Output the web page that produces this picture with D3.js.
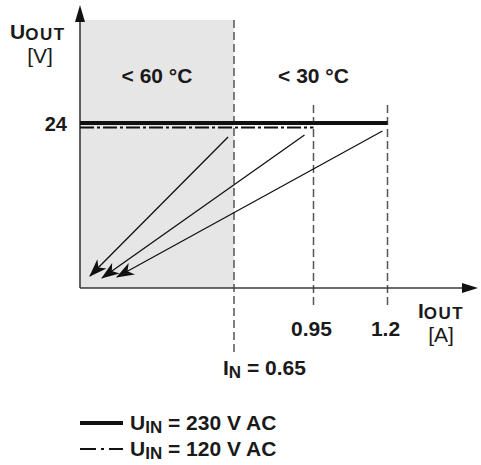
<!DOCTYPE html>
<html>
<head>
<meta charset="utf-8">
<script src="https://cdn.jsdelivr.net/npm/d3@7"></script>
<style>
  body { margin: 0; background: #fff; }
  text { font-family: "Liberation Sans", Arial, sans-serif; fill: #1a1a1a; }
  .bold { font-weight: bold; }
</style>
</head>
<body>
<svg id="canvas"></svg>
<script>
// current break points (A) and output voltage (V)
const breakCurrents = [0, 0.65, 0.95, 1.2];
const tickValues = [0.95, 1.2];
const tickLabels = ["0.95", "1.2"];
const nominalCurrent = 0.65;
const outputVoltage = 24;

// output lines per input voltage
const seriesNames = ["230 V AC", "120 V AC"];
const seriesMaxCurrent = [1.2, 0.95];

// zone temperature labels
const zoneLabels = ["< 60 °C", "< 30 °C"];
const zoneCenters = [0.325, 0.95];

// derating arrows (start -> end, in A / V)
const arrowStartI = [0.625, 0.916, 1.183];
const arrowStartU = [21.96, 22.25, 22.84];
const arrowEndI = [0.042, 0.093, 0.156];
const arrowEndU = [1.75, 1.45, 1.6];

function drawChart() {
    const width = 481;
    const height = 465;
    const plotTop = 20;     // top of grey zone
    const axisTop = 5;      // tip of y arrow
    const axisRight = 478;  // tip of x arrow

    const svg = d3.select("#canvas")
        .attr("width", width)
        .attr("height", height);

    const x = d3.scaleLinear()
        .domain(breakCurrents)
        .range([80, 234, 313.5, 387.5]);

    const y = d3.scaleLinear()
        .domain([0, outputVoltage])
        .range([288, 123]);

    const defs = svg.append("defs");
    defs.append("marker")
        .attr("id", "barb")
        .attr("viewBox", "0 -7 18 14")
        .attr("refX", 17)
        .attr("refY", 0)
        .attr("markerWidth", 18)
        .attr("markerHeight", 14)
        .attr("markerUnits", "userSpaceOnUse")
        .attr("orient", "auto")
        .append("path")
        .attr("d", "M0,-6.5 L18,0 L0,6.5 L5,0 Z")
        .attr("fill", "#111");

    // grey zone
    svg.append("rect")
        .attr("x", x(0))
        .attr("y", plotTop)
        .attr("width", x(nominalCurrent) - x(0))
        .attr("height", y(0) - plotTop)
        .attr("fill", "#e6e6e6");

    // vertical dashed limits
    const dash = svg.append("g")
        .attr("stroke", "#555")
        .attr("stroke-width", 1.5)
        .attr("stroke-dasharray", "8,4");
    dash.append("line")
        .attr("x1", x(nominalCurrent)).attr("x2", x(nominalCurrent))
        .attr("y1", plotTop).attr("y2", 352);
    dash.selectAll("line.lim")
        .data(tickValues)
        .enter()
        .append("line")
        .attr("class", "lim")
        .attr("x1", d => x(d)).attr("x2", d => x(d))
        .attr("y1", 105).attr("y2", 305);

    // axes
    const axis = svg.append("g").attr("stroke", "#3a3a3a").attr("stroke-width", 1.6);
    axis.append("line")
        .attr("x1", x(0)).attr("x2", axisRight - 14)
        .attr("y1", y(0)).attr("y2", y(0));
    axis.append("line")
        .attr("x1", x(0)).attr("x2", x(0))
        .attr("y1", y(0)).attr("y2", axisTop + 14);
    svg.append("path")
        .attr("d", `M${axisRight},${y(0)} L${axisRight - 16},${y(0) - 5} L${axisRight - 16},${y(0) + 5} Z`)
        .attr("fill", "#111");
    svg.append("path")
        .attr("d", `M${x(0)},${axisTop} L${x(0) - 5},${axisTop + 17} L${x(0) + 5},${axisTop + 17} Z`)
        .attr("fill", "#111");

    // output lines
    svg.append("line")
        .attr("x1", x(0)).attr("x2", x(seriesMaxCurrent[1]))
        .attr("y1", y(outputVoltage) + 4.5).attr("y2", y(outputVoltage) + 4.5)
        .attr("stroke", "#111")
        .attr("stroke-width", 1.8)
        .attr("stroke-dasharray", "14,3,3,3");
    svg.append("line")
        .attr("x1", x(0)).attr("x2", x(seriesMaxCurrent[0]))
        .attr("y1", y(outputVoltage)).attr("y2", y(outputVoltage))
        .attr("stroke", "#111")
        .attr("stroke-width", 4);

    // derating arrows
    svg.selectAll("line.arrow")
        .data(arrowStartI)
        .enter()
        .append("line")
        .attr("class", "arrow")
        .attr("x1", d => x(d))
        .attr("y1", (d, i) => y(arrowStartU[i]))
        .attr("x2", (d, i) => x(arrowEndI[i]))
        .attr("y2", (d, i) => y(arrowEndU[i]))
        .attr("stroke", "#111")
        .attr("stroke-width", 1.3)
        .attr("marker-end", "url(#barb)");

    // zone labels
    svg.selectAll("text.zone")
        .data(zoneLabels)
        .enter()
        .append("text")
        .attr("class", "zone bold")
        .attr("x", (d, i) => x(zoneCenters[i]))
        .attr("y", 83)
        .attr("text-anchor", "middle")
        .style("font-size", "21px")
        .text(d => d);

    // y label
    const yl = svg.append("text").attr("class", "bold").attr("x", 10).attr("y", 39);
    yl.append("tspan").style("font-size", "21px").text("U");
    yl.append("tspan").style("font-size", "17px").style("letter-spacing", "1.5px").attr("dy", 1).text("OUT");
    svg.append("text")
        .attr("x", 40).attr("y", 63)
        .attr("text-anchor", "middle")
        .style("font-size", "21px")
        .text("[V]");
    svg.append("text")
        .attr("class", "bold")
        .attr("x", 67).attr("y", y(outputVoltage) + 8)
        .attr("text-anchor", "end")
        .style("font-size", "20px")
        .text(outputVoltage);

    // x ticks
    svg.selectAll("text.tick")
        .data(tickValues)
        .enter()
        .append("text")
        .attr("class", "tick bold")
        .attr("x", d => x(d) - 2)
        .attr("y", 336)
        .attr("text-anchor", "middle")
        .style("font-size", "21px")
        .text((d, i) => tickLabels[i]);

    // x label
    const xl = svg.append("text").attr("class", "bold").attr("x", 418).attr("y", 318);
    xl.append("tspan").style("font-size", "21px").text("I");
    xl.append("tspan").style("font-size", "17px").style("letter-spacing", "1.5px").attr("dy", 1).text("OUT");
    svg.append("text")
        .attr("x", 441).attr("y", 342)
        .attr("text-anchor", "middle")
        .style("font-size", "21px")
        .text("[A]");

    // nominal current
    const nl = svg.append("text").attr("class", "bold").attr("x", 223).attr("y", 375)
        .style("font-size", "21px");
    nl.append("tspan").text("I");
    nl.append("tspan").style("font-size", "17px").attr("dy", 3).text("N");
    nl.append("tspan").attr("dy", -3).text(" = " + nominalCurrent);

    // legend
    const legend = svg.append("g");
    const legY = [423, 449];
    legend.selectAll("line")
        .data(seriesNames)
        .enter()
        .append("line")
        .attr("x1", 80).attr("x2", 123)
        .attr("y1", (d, i) => legY[i]).attr("y2", (d, i) => legY[i])
        .attr("stroke", "#111")
        .attr("stroke-width", (d, i) => i === 0 ? 4 : 2)
        .attr("stroke-dasharray", (d, i) => i === 0 ? null : "16,5,3,5");
    const lt = legend.selectAll("text")
        .data(seriesNames)
        .enter()
        .append("text")
        .attr("class", "bold")
        .attr("x", 130)
        .attr("y", (d, i) => legY[i] + 7)
        .style("font-size", "21px");
    lt.append("tspan").text("U");
    lt.append("tspan").style("font-size", "17px").attr("dy", 3).text("IN");
    lt.append("tspan").attr("dy", -3).text(d => " = " + d);
}

drawChart();
</script>
</body>
</html>
